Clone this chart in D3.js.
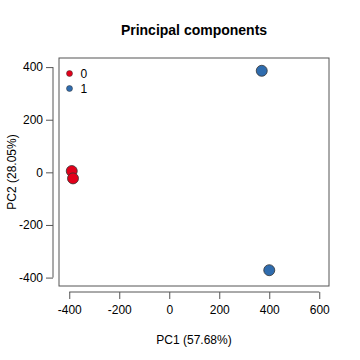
<!DOCTYPE html>
<html>
<head>
<meta charset="utf-8">
<script src="https://cdn.jsdelivr.net/npm/d3@7"></script>
<style>
  body { margin: 0; background: #fff; }
  text { font-family: "Liberation Sans", Arial, sans-serif; fill: #000; }
</style>
</head>
<body>
<svg id="chart" width="360" height="360"></svg>
<script>
const groups = ['0', '0', '1', '1'];
const pc1 = [-390, -385, 370, 400];
const pc2 = [5, -23, 386, -372];
const legendLabels = ['0', '1'];
const colors = { '0': '#e2001a', '1': '#2f6cae' };
const xTicks = [-400, -200, 0, 200, 400, 600];
const yTicks = [-400, -200, 0, 200, 400];

const svg = d3.select('#chart');
const box = { left: 59, right: 329, top: 58, bottom: 286 };
const fmt = d => String(d); // plain hyphen minus like R

const x = d3.scaleLinear().domain([-441, 639]).range([box.left, box.right]);
const y = d3.scaleLinear().domain([-432, 434.6]).range([box.bottom, box.top]);

svg.append('rect')
  .attr('x', box.left).attr('y', box.top)
  .attr('width', box.right - box.left).attr('height', box.bottom - box.top)
  .attr('fill', 'none').attr('stroke', '#555').attr('stroke-width', 1);

// x axis
const xAxis = svg.append('g').attr('transform', `translate(0,${box.bottom + 6})`)
  .call(d3.axisBottom(x).tickValues(xTicks).tickSize(7).tickPadding(6).tickFormat(fmt));
xAxis.select('.domain').attr('d', `M${x(-400)},0H${x(600)}`).attr('stroke', '#555');
xAxis.selectAll('.tick line').attr('stroke', '#555');
xAxis.selectAll('text').attr('font-size', 12).attr('font-family', '"Liberation Sans", Arial, sans-serif');

// y axis
const yAxis = svg.append('g').attr('transform', `translate(${box.left - 6},0)`)
  .call(d3.axisLeft(y).tickValues(yTicks).tickSize(7).tickPadding(3).tickFormat(fmt));
yAxis.select('.domain').attr('d', `M0,${y(-400)}V${y(400)}`).attr('stroke', '#555');
yAxis.selectAll('.tick line').attr('stroke', '#555');
yAxis.selectAll('text').attr('font-size', 12).attr('font-family', '"Liberation Sans", Arial, sans-serif');

// points
svg.append('g').selectAll('circle')
  .data(pc1.map((v, i) => ({ x: v, y: pc2[i], g: groups[i] })))
  .join('circle')
  .attr('cx', d => x(d.x))
  .attr('cy', d => y(d.y))
  .attr('r', 5.5)
  .attr('fill', d => colors[d.g])
  .attr('stroke', '#333')
  .attr('stroke-width', 0.8);

// legend
const legend = svg.append('g').selectAll('g')
  .data(legendLabels)
  .join('g')
  .attr('transform', (d, i) => `translate(69.5,${73.5 + i * 15})`);
legend.append('circle').attr('r', 3).attr('fill', d => colors[d])
  .attr('stroke', '#333').attr('stroke-width', 0.5);
legend.append('text').attr('x', 11).attr('dy', '0.35em').attr('font-size', 12).text(d => d);

// titles
svg.append('text').attr('x', 194).attr('y', 35).attr('text-anchor', 'middle')
  .attr('font-size', 14).attr('font-weight', 'bold').text('Principal components');
svg.append('text').attr('x', 194).attr('y', 344).attr('text-anchor', 'middle')
  .attr('font-size', 12).text('PC1 (57.68%)');
svg.append('text').attr('transform', `translate(16,${(box.top + box.bottom) / 2}) rotate(-90)`)
  .attr('text-anchor', 'middle').attr('font-size', 12).text('PC2 (28.05%)');
</script>
</body>
</html>
